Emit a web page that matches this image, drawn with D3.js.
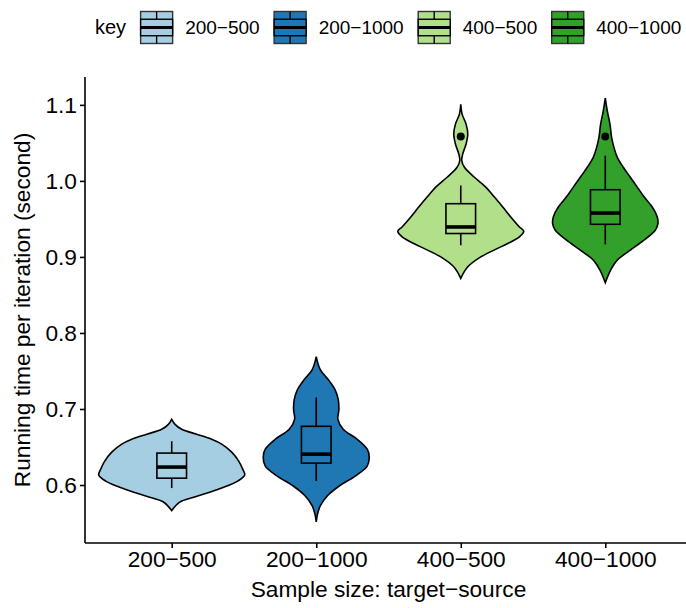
<!DOCTYPE html>
<html>
<head>
<meta charset="utf-8">
<script src="https://cdn.jsdelivr.net/npm/d3@7"></script>
<style>
  body { margin: 0; background: #fff; }
  svg { display: block; font-family: 'Liberation Sans', Arial, sans-serif; }
</style>
</head>
<body>
<div id="hook-violin"></div>
<script>
'use strict';

(function() {

var categories = ['200\u2212500', '200\u22121000', '400\u2212500', '400\u22121000'];
var colors = ['#a6cee3', '#1f78b4', '#b2df8a', '#33a02c'];
var yTicks = [0.6, 0.7, 0.8, 0.9, 1.0, 1.1];

// violin outlines: [value, density]
var profile200_500 = [[0.6864,0],[0.6798,1.0],[0.6733,3.0],[0.6668,7.5],[0.6602,12.0],[0.6537,15.0],
  [0.6432,18.0],[0.6314,20.1],[0.6209,21.3],[0.6131,21.9],[0.6052,19.8],[0.5970,15.6],
  [0.5904,11.4],[0.5839,6.6],[0.5774,2.4],[0.5664,0]];
var profile200_1000 = [[0.7688,0],[0.7518,1.2],[0.7387,3.6],[0.7257,5.6],[0.7126,6.6],[0.6995,6.8],
  [0.6864,6.5],[0.6733,8.1],[0.6602,12.3],[0.6471,15.3],[0.6366,15.9],[0.6249,15.3],
  [0.6118,11.7],[0.5987,6.9],[0.5856,3.3],[0.5725,1.2],[0.5620,0.4],[0.5516,0]];
var profile400_500 = [[1.1009,0],[1.0878,0.4],[1.0747,1.6],[1.0617,2.1],[1.0486,1.6],[1.0355,0.6],
  [1.0267,0.3],[1.0179,1.1],[1.0048,4.1],[0.9918,7.5],[0.9787,10.1],[0.9656,12.6],
  [0.9525,15.0],[0.9394,17.6],[0.9338,18.9],[0.9263,17.6],[0.9132,12.0],[0.9001,6.0],
  [0.8870,2.1],[0.8719,0]];
var profile400_1000 = [[1.1088,0],[1.0921,0.6],[1.0747,1.4],[1.0572,1.9],[1.0441,2.6],[1.0310,3.6],
  [1.0179,5.4],[1.0048,7.5],[0.9918,9.6],[0.9787,11.7],[0.9656,14.1],[0.9525,15.6],
  [0.9438,15.8],[0.9351,15.0],[0.9220,11.6],[0.9089,7.5],[0.8958,3.6],[0.8827,1.6],[0.8661,0]];
var profiles = [profile200_500, profile200_1000, profile400_500, profile400_1000];

// box plot statistics
var whiskerLow  = [0.5960, 0.6052, 0.9154, 0.9164];
var q1          = [0.6090, 0.6288, 0.9308, 0.9429];
var medians     = [0.6236, 0.6406, 0.9394, 0.9577];
var q3          = [0.6420, 0.6772, 0.9700, 0.9884];
var whiskerHigh = [0.6576, 0.7152, 0.9940, 1.0332];
var outliers    = [[], [], [1.0585], [1.0585]];

var options = {
  width: 686,
  height: 608,
  left: 85,
  right: 692,
  top: 77,
  bottom: 543,
  violinHalf: 0.505,
  boxWidth: 0.205
};

function update(options) {

  var svg = d3.select('#hook-violin')
    .append('svg')
    .attr('width', options.width)
    .attr('height', options.height);

  var allValues = [];
  profiles.forEach(function(p) { p.forEach(function(d) { allValues.push(d[0]); }); });
  var ext = d3.extent(allValues);
  var pad = (ext[1] - ext[0]) * 0.05;

  var y = d3.scaleLinear()
    .domain([ext[0] - pad, ext[1] + pad])
    .range([options.bottom, options.top]);

  var x = d3.scalePoint()
    .domain(categories)
    .range([options.left, options.right])
    .padding(0.6);

  var maxDensity = d3.max(profiles, function(p) { return d3.max(p, function(d) { return d[1]; }); });
  var w = d3.scaleLinear()
    .domain([0, maxDensity])
    .range([0, x.step() * options.violinHalf]);

  // violins
  categories.forEach(function(cat, i) {
    var cx = x(cat);
    var area = d3.area()
      .y(function(d) { return y(d[0]); })
      .x0(function(d) { return cx - w(d[1]); })
      .x1(function(d) { return cx + w(d[1]); })
      .curve(d3.curveCatmullRom);

    svg.append('path')
      .attr('d', area(profiles[i]))
      .style('fill', colors[i])
      .style('stroke', '#000')
      .style('stroke-width', 1.6);

    var bw = x.step() * options.boxWidth;
    var g = svg.append('g');

    g.append('line')
      .attr('x1', cx).attr('x2', cx)
      .attr('y1', y(whiskerHigh[i])).attr('y2', y(q3[i]))
      .style('stroke', '#000').style('stroke-width', 1.6);
    g.append('line')
      .attr('x1', cx).attr('x2', cx)
      .attr('y1', y(q1[i])).attr('y2', y(whiskerLow[i]))
      .style('stroke', '#000').style('stroke-width', 1.6);
    g.append('rect')
      .attr('x', cx - bw / 2)
      .attr('y', y(q3[i]))
      .attr('width', bw)
      .attr('height', y(q1[i]) - y(q3[i]))
      .style('fill', colors[i])
      .style('stroke', '#000')
      .style('stroke-width', 1.6);
    g.append('line')
      .attr('x1', cx - bw / 2).attr('x2', cx + bw / 2)
      .attr('y1', y(medians[i])).attr('y2', y(medians[i]))
      .style('stroke', '#000').style('stroke-width', 3.6);

    g.selectAll('circle.out')
      .data(outliers[i])
      .enter().append('circle')
      .attr('cx', cx)
      .attr('cy', function(d) { return y(d); })
      .attr('r', 4)
      .style('fill', '#000');
  });

  // axes
  var yAxis = svg.append('g')
    .attr('transform', 'translate(' + options.left + ',0)')
    .call(d3.axisLeft(y).tickValues(yTicks).tickFormat(d3.format('.1f')).tickSize(5).tickPadding(3).tickSizeOuter(0));
  var xAxis = svg.append('g')
    .attr('transform', 'translate(0,' + options.bottom + ')')
    .call(d3.axisBottom(x).tickSize(5).tickPadding(3).tickSizeOuter(0));

  [yAxis, xAxis].forEach(function(a) {
    a.select('.domain').style('stroke', '#000').style('stroke-width', 1.6);
    a.selectAll('.tick line').style('stroke', '#000').style('stroke-width', 1.6);
    a.selectAll('.tick text')
      .style('font-family', "'Liberation Sans', Arial, sans-serif")
      .style('font-size', '22.7px')
      .style('fill', '#000');
  });
  yAxis.select('.domain').attr('d', 'M0,' + options.bottom + 'V' + options.top);
  xAxis.select('.domain').attr('d', 'M' + options.left + ',0H' + options.right);

  svg.append('text')
    .attr('x', (options.left + options.right) / 2)
    .attr('y', 597)
    .attr('text-anchor', 'middle')
    .style('font-size', '22.7px')
    .text('Sample size: target\u2212source');

  svg.append('text')
    .attr('transform', 'translate(30,' + ((options.top + options.bottom) / 2) + ') rotate(-90)')
    .attr('text-anchor', 'middle')
    .style('font-size', '22.7px')
    .text('Running time per iteration (second)');

  // legend
  var legend = svg.append('g');
  var cursor = 95, keyW = 33, keyH = 33, keyTop = 11, baseline = 34;
  var title = legend.append('text')
    .attr('x', cursor).attr('y', baseline)
    .style('font-size', '20px')
    .text('key');
  cursor += title.node().getComputedTextLength() + 14;

  categories.forEach(function(cat, i) {
    var k = legend.append('g').attr('transform', 'translate(' + cursor + ',' + keyTop + ')');
    k.append('rect')
      .attr('x', 0.5).attr('y', 0.5)
      .attr('width', keyW - 1).attr('height', keyH - 1)
      .style('fill', colors[i])
      .style('stroke', '#333')
      .style('stroke-width', 1.4);
    k.append('line')
      .attr('x1', keyW / 2).attr('x2', keyW / 2)
      .attr('y1', 0.5).attr('y2', keyH * 0.25)
      .style('stroke', '#000').style('stroke-width', 1.4);
    k.append('line')
      .attr('x1', keyW / 2).attr('x2', keyW / 2)
      .attr('y1', keyH * 0.75).attr('y2', keyH - 0.5)
      .style('stroke', '#000').style('stroke-width', 1.4);
    k.append('rect')
      .attr('x', 0.5).attr('y', keyH * 0.25)
      .attr('width', keyW - 1).attr('height', keyH * 0.5)
      .style('fill', colors[i])
      .style('stroke', '#000')
      .style('stroke-width', 1.4);
    k.append('line')
      .attr('x1', 0.5).attr('x2', keyW - 0.5)
      .attr('y1', keyH / 2).attr('y2', keyH / 2)
      .style('stroke', '#000').style('stroke-width', 2.8);
    cursor += keyW + 12;
    var t = legend.append('text')
      .attr('x', cursor).attr('y', baseline)
      .style('font-size', '19px')
      .text(cat);
    cursor += t.node().getComputedTextLength() + 14;
  });
}

update(options);

}());
</script>
</body>
</html>
